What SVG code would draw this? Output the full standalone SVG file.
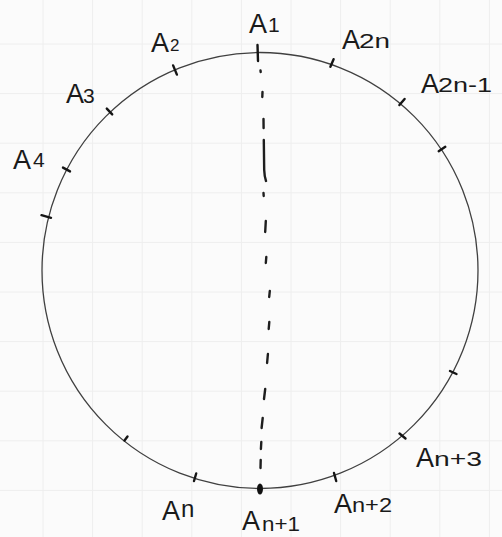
<svg xmlns="http://www.w3.org/2000/svg" width="502" height="537" viewBox="0 0 502 537">
<style>
.grid{stroke:#eeeeee;stroke-width:1;fill:none}
.circ{fill:none;stroke:#404040;stroke-width:1.3}
.tick{stroke:#151515;stroke-width:2.4;stroke-linecap:round;fill:none}
.dash{stroke:#1e1e1e;stroke-width:2.4;stroke-linecap:round;fill:none}
.lbl{font-family:"Liberation Sans",Arial,sans-serif;fill:#1a1a1a}
.big{font-size:27px}
.sub{font-size:21px}
</style>
<rect x="0" y="0" width="502" height="537" fill="#fbfbfb"/>
<g id="grid">
<path class="grid" d="M43 0V537M92.6 0V537M142.2 0V537M191.8 0V537M241.4 0V537M291 0V537M340.6 0V537M390.2 0V537M439.8 0V537M489.4 0V537M0 44H502M0 93.6H502M0 143.2H502M0 192.8H502M0 242.4H502M0 292H502M0 341.6H502M0 391.2H502M0 440.8H502M0 490.4H502"/>
</g>
<g id="circle">
<circle class="circ" cx="260" cy="270.5" r="218"/>
</g>
<g id="connectors">
<path class="dash" d="M260.5 70.5L260.7 72M262.5 92L262.3 97M263.5 119L263.6 128M263.8 140L264.2 170Q264.5 177 266 181M263.5 193L263.7 196M265.8 221L265.2 232M266.3 257L265.8 263M269.8 291L269.2 297M269.3 322L268.7 329M267.9 354L267.1 363M265.2 389L264 399M262.7 418L261.6 428M261.3 442L260.9 449M260.7 460L260.5 468"/>
</g>
<g id="A1">
<path class="tick" d="M257.5 45L258 61"/>
<text class="lbl" x="249" y="33"><tspan class="big">A</tspan><tspan class="sub" x="268" y="32">1</tspan></text>
</g>
<g id="A2">
<path class="tick" d="M173.1 65.4L176.9 74.6"/>
<text class="lbl" x="151" y="52"><tspan class="big">A</tspan><tspan x="170" y="51" font-size="17">2</tspan></text>
</g>
<g id="A3">
<path class="tick" d="M106.8 108.6L112.2 114.4"/>
<text class="lbl" x="66" y="103"><tspan class="big">A</tspan><tspan class="sub" x="83" y="103">3</tspan></text>
</g>
<g id="A4">
<path class="tick" d="M63 167.6L70 171.4" stroke-width="3"/>
<text class="lbl" x="13" y="169"><tspan class="big">A</tspan><tspan class="sub" x="33" y="167">4</tspan></text>
</g>
<g id="P5">
<path class="tick" d="M41.5 215.2L51 217.8"/>
</g>
<g id="An">
<path class="tick" d="M196.2 473.5L194 481"/>
<text class="lbl" x="162" y="520"><tspan class="big">A</tspan><tspan x="181" y="517" font-size="24">n</tspan></text>
</g>
<g id="Pn1">
<path class="tick" d="M124.5 440.5L127.5 436.5"/>
</g>
<g id="An1">
<ellipse cx="260" cy="489" rx="3" ry="5.5" fill="#111"/>
<text class="lbl" x="242" y="530"><tspan class="big">A</tspan><tspan class="sub" x="262" y="531" textLength="38" lengthAdjust="spacingAndGlyphs">n+1</tspan></text>
</g>
<g id="An2">
<path class="tick" d="M334 473L336.2 481" stroke-width="2.8"/>
<text class="lbl" x="334" y="513"><tspan class="big">A</tspan><tspan class="sub" x="352" y="512" textLength="40" lengthAdjust="spacingAndGlyphs">n+2</tspan></text>
</g>
<g id="An3">
<path class="tick" d="M399.5 433.5L405.5 438.5" stroke-width="2.8"/>
<text class="lbl" x="416" y="467"><tspan class="big">A</tspan><tspan class="sub" x="434" y="466" textLength="48" lengthAdjust="spacingAndGlyphs">n+3</tspan></text>
</g>
<g id="P4">
<path class="tick" d="M450 371L456.5 374"/>
</g>
<g id="P3">
<path class="tick" d="M438.7 151.2L445.3 146.8"/>
</g>
<g id="A2n1">
<path class="tick" d="M399.4 105.1L404.6 98.9"/>
<text class="lbl" x="421" y="93"><tspan class="big">A</tspan><tspan class="sub" x="438" y="92" textLength="54" lengthAdjust="spacingAndGlyphs">2n-1</tspan></text>
</g>
<g id="A2n">
<path class="tick" d="M330.4 66.8L333.6 59.2" stroke-width="2.6"/>
<text class="lbl" x="342" y="49"><tspan class="big">A</tspan><tspan class="sub" x="359" y="48" textLength="31" lengthAdjust="spacingAndGlyphs">2n</tspan></text>
</g>
</svg>
